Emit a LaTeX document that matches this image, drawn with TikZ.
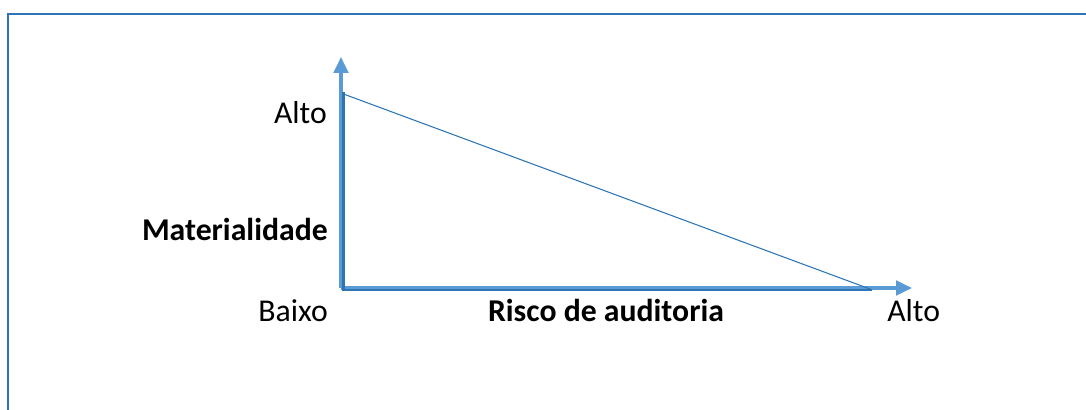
\documentclass[tikz,border=0pt]{standalone}
\usepackage{fontspec}
\setmainfont{Carlito}
\usetikzlibrary{arrows.meta}
\definecolor{frameblue}{HTML}{2E75B6}
\definecolor{axisblue}{HTML}{5B9BD5}
\begin{document}
\begin{tikzpicture}[x=0.75pt,y=-0.75pt,
  lbl/.style={font=\fontsize{23.8pt}{28pt}\selectfont,inner sep=0pt,anchor=base},
  blbl/.style={lbl,font=\fontsize{23.8pt}{28pt}\selectfont\bfseries},
  axis/.style={draw=axisblue,line width=2.3pt,-{Triangle[length=12pt,width=11pt]}},
  dark/.style={draw=frameblue,line width=1.6pt},
  frame/.style={draw=frameblue,line width=1.9pt}]
\useasboundingbox (0,0) rectangle (1086,410);
% frame (only top and left visible)
\coordinate (fbl) at (8,420);
\coordinate (ftl) at (8,14);
\coordinate (ftr) at (1100,14);
\draw[frame] (fbl) -- (ftl) -- (ftr);
% axes
\coordinate (o) at (341,288);
\coordinate (ytip) at (341,57);
\coordinate (xtip) at (912,288);
\draw[axis] (o) -- (ytip);
\draw[axis] (o) -- (xtip);
% darker overlay lines
\coordinate (dtop) at (343.5,92);
\coordinate (dcorner) at (343.5,290);
\coordinate (dright) at (872,290);
\draw[dark] (dtop) -- (dcorner) -- (dright);
% diagonal
\coordinate (diagA) at (343.5,94);
\coordinate (diagB) at (870,289);
\draw[draw=frameblue,line width=0.8pt] (diagA) -- (diagB);
% labels
\node[lbl,anchor=base east] (altoy) at (327,123) {Alto};
\node[blbl,anchor=base east] (mat) at (328,240) {Materialidade};
\node[lbl,anchor=base east] (baixo) at (328,321) {Baixo};
\node[blbl,anchor=base] (risco) at (606,321) {Risco de auditoria};
\node[lbl,anchor=base west] (altox) at (887,321) {Alto};
\end{tikzpicture}
\end{document}
